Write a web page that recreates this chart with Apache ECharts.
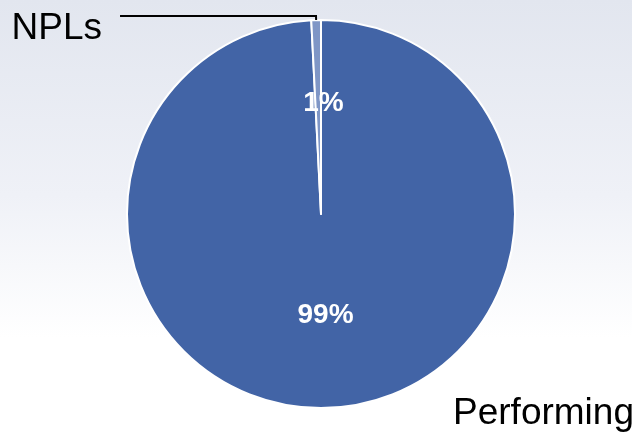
<!DOCTYPE html>
<html>
<head>
<meta charset="utf-8">
<script src="https://cdn.jsdelivr.net/npm/echarts@6/dist/echarts.min.js"></script>
<style>
  html, body { margin: 0; padding: 0; }
  #chart { width: 632px; height: 433px; }
</style>
</head>
<body>
<div id="chart"></div>
<script>
// Data (order: clockwise from 12 o'clock)
const categories = ['Performing', 'NPLs'];
const values = [99.2, 0.8];
const colors = ['#4264a6', '#7f96c6'];

const chart = echarts.init(document.getElementById('chart'));

const pieData = categories.map((name, i) => ({ name: name, value: values[i] }));

const common = {
  type: 'pie',
  center: [321, 214],
  radius: 194,
  startAngle: 90,
  clockwise: true,
  avoidLabelOverlap: false,
  animation: false
};

const option = {
  backgroundColor: {
    type: 'linear', x: 0, y: 0, x2: 0, y2: 1,
    colorStops: [
      { offset: 0, color: '#e2e6ef' },
      { offset: 0.45, color: '#eff1f7' },
      { offset: 0.78, color: '#ffffff' },
      { offset: 1, color: '#ffffff' }
    ]
  },
  series: [
    Object.assign({}, common, {
      name: 'pct',
      itemStyle: { borderColor: '#ffffff', borderWidth: 2 },
      label: {
        show: true,
        position: 'inside',
        color: '#ffffff',
        fontFamily: 'Liberation Sans, Arial, sans-serif',
        fontWeight: 'bold',
        fontSize: 28,
        formatter: p => Math.round(p.percent) + '%'
      },
      labelLine: { show: false },
      data: pieData.map((d, i) => ({
        name: d.name,
        value: d.value,
        itemStyle: { color: colors[i] },
        label: { offset: i === 1 ? [5, -11] : [2, 1] }
      }))
    }),
    Object.assign({}, common, {
      name: 'names',
      silent: true,
      z: 3,
      itemStyle: { color: 'rgba(0,0,0,0)', borderWidth: 0 },
      label: {
        show: true,
        position: 'outside',
        alignTo: 'none',
        color: '#000000',
        fontFamily: 'Liberation Sans, Arial, sans-serif',
        fontSize: 37,
        width: 220,
        overflow: 'none',
        formatter: '{b}'
      },
      data: pieData.map((d, i) => i === 1 ? {
        name: d.name,
        value: d.value,
        label: { distanceToLabelLine: 18, offset: [0, 13], align: 'right' },
        labelLine: { show: true, length: 4, length2: 196, smooth: false,
          lineStyle: { color: '#000000', width: 2 } }
      } : {
        name: d.name,
        value: d.value,
        label: { distanceToLabelLine: 5, align: 'left' },
        labelLine: { show: false, length: 6, length2: 122 }
      })
    })
  ]
};

chart.setOption(option);
</script>
</body>
</html>
